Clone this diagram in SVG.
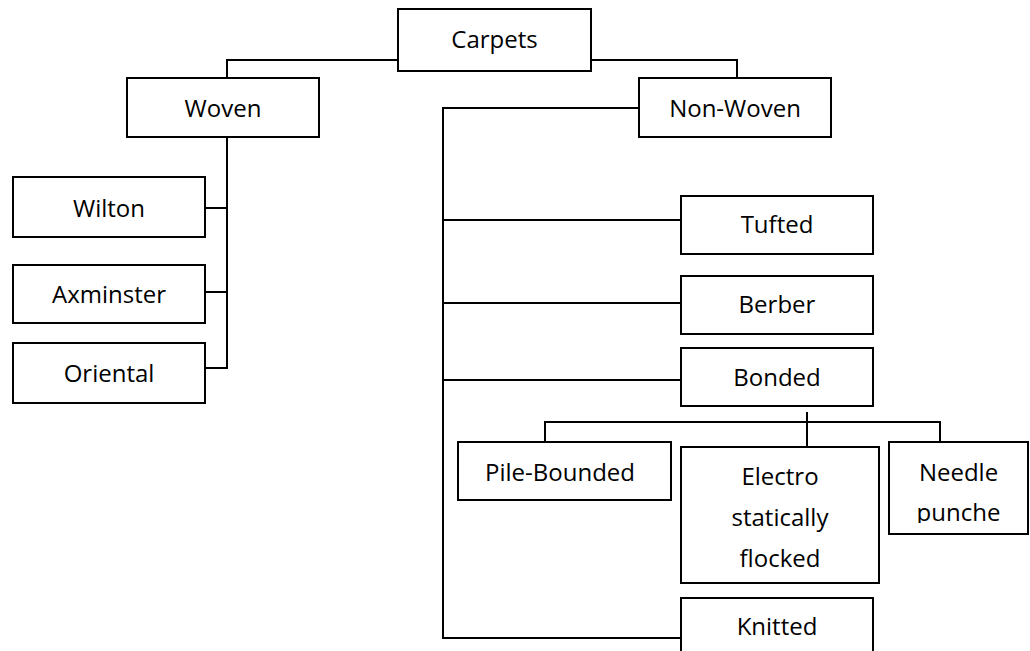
<svg xmlns="http://www.w3.org/2000/svg" width="1030" height="651" viewBox="0 0 1030 651">
<style>
.box{fill:#fff;stroke:#000;stroke-width:2}
.t{font-family:"Open Sans","Liberation Sans",sans-serif;font-size:24px;fill:#000;text-anchor:middle}
.c{fill:none;stroke:#000;stroke-width:2}
</style>
<defs>
<clipPath id="needleClip"><rect x="889" y="442" width="139" height="81"/></clipPath>
</defs>
<rect width="1030" height="651" fill="#fff"/>
<g id="connectors">
<polyline class="c" points="398,60 227,60 227,78"/>
<polyline class="c" points="591,60 737,60 737,78"/>
<polyline class="c" points="227,137 227,368 206,368"/>
<line class="c" x1="206" y1="208" x2="227" y2="208"/>
<line class="c" x1="206" y1="292" x2="227" y2="292"/>
<polyline class="c" points="639,108 443,108 443,638 681,638"/>
<line class="c" x1="443" y1="220" x2="681" y2="220"/>
<line class="c" x1="443" y1="303" x2="681" y2="303"/>
<line class="c" x1="443" y1="380" x2="681" y2="380"/>
<line class="c" x1="807" y1="412" x2="807" y2="447"/>
<polyline class="c" points="545,442 545,422 940,422 940,442"/>
</g>
<g id="carpets"><rect class="box" x="398" y="9" width="193" height="62"/><text class="t" x="494.5" y="48">Carpets</text></g>
<g id="woven"><rect class="box" x="127" y="78" width="192" height="59"/><text class="t" x="223" y="117">Woven</text></g>
<g id="nonwoven"><rect class="box" x="639" y="78" width="192" height="59"/><text class="t" x="735" y="117">Non-Woven</text></g>
<g id="wilton"><rect class="box" x="13" y="177" width="192" height="60"/><text class="t" x="109" y="217">Wilton</text></g>
<g id="axminster"><rect class="box" x="13" y="265" width="192" height="58"/><text class="t" x="109" y="303">Axminster</text></g>
<g id="oriental"><rect class="box" x="13" y="343" width="192" height="60"/><text class="t" x="109" y="382">Oriental</text></g>
<g id="tufted"><rect class="box" x="681" y="196" width="192" height="58"/><text class="t" x="777" y="233">Tufted</text></g>
<g id="berber"><rect class="box" x="681" y="276" width="192" height="58"/><text class="t" x="777" y="313">Berber</text></g>
<g id="bonded"><rect class="box" x="681" y="348" width="192" height="58"/><text class="t" x="777" y="386">Bonded</text></g>
<g id="pilebounded"><rect class="box" x="458" y="442" width="213" height="58"/><text class="t" x="560" y="481">Pile-Bounded</text></g>
<g id="electro"><rect class="box" x="681" y="447" width="198" height="136"/><text class="t" x="780" y="485">Electro</text><text class="t" x="780" y="526">statically</text><text class="t" x="780" y="567">flocked</text></g>
<g id="needle"><rect class="box" x="889" y="442" width="139" height="92"/><g clip-path="url(#needleClip)"><text class="t" x="958.5" y="481">Needle</text><text class="t" x="958.5" y="521">punche</text></g></g>
<g id="knitted"><rect class="box" x="681" y="598" width="192" height="60"/><text class="t" x="777" y="635">Knitted</text></g>
</svg>
